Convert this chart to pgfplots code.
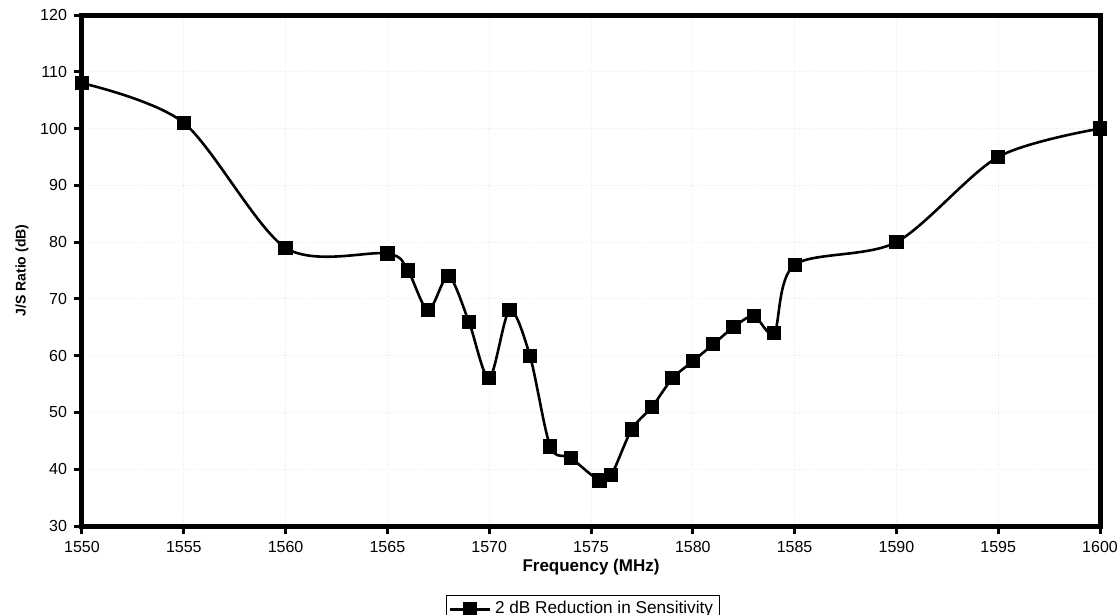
\documentclass[border=0pt]{standalone}
\usepackage{fontspec}
\setmainfont{Liberation Sans}
\usepackage{pgfplots}
\pgfplotsset{compat=1.18}
\begin{document}
\begin{tikzpicture}
\useasboundingbox (-41pt,-44.5pt) rectangle (518pt,263pt);
\begin{axis}[
  at={(0,0)}, anchor=south west,
  scale only axis, width=509pt, height=255.5pt,
  xmin=1550, xmax=1600, ymin=30, ymax=120,
  xtick distance=5, ytick distance=10,
  xtick pos=bottom, ytick pos=left,
  tick align=outside, major tick length=4pt,
  every tick/.style={black, line width=1.5pt},
  axis line style={line width=2.5pt},
  grid=major, major grid style={gray!18, line width=0.4pt, densely dotted},
  tick label style={font=\fontsize{8}{9}\selectfont},
  /pgf/number format/assume math mode=true,
  /pgf/number format/1000 sep={},
  clip=false,
  xlabel={Frequency (MHz)},
  ylabel={J/S Ratio (dB)},
  xlabel style={font=\fontsize{8.5}{10}\selectfont\bfseries, at={(axis description cs:0.5,0)}, anchor=center, yshift=-20.5pt},
  ylabel style={font=\fontsize{7}{8}\selectfont\bfseries, at={(axis description cs:-0.059,0.5)}, anchor=center},
  legend style={at={(0.492,0)}, anchor=north, yshift=-34.5pt, draw=black, line width=0.5pt,
    font=\fontsize{8.6}{10}\selectfont, inner sep=1pt},
  legend image code/.code={\draw[mark repeat=2,mark phase=2,#1] plot coordinates {(0cm,0cm)(0.35cm,0cm)(0.7cm,0cm)};},
]
\addplot[black, line width=1.3pt, smooth, mark=square*, mark size=2.9pt, mark options={solid}] coordinates {
(1550,108) (1555,101) (1560,79) (1565,78) (1566,75) (1567,68) (1568,74) (1569,66)
(1570,56) (1571,68) (1572,60) (1573,44) (1574,42) (1575.42,38) (1576,39) (1577,47)
(1578,51) (1579,56) (1580,59) (1581,62) (1582,65) (1583,67) (1584,64) (1585,76)
(1590,80) (1595,95) (1600,100)
};
\addlegendentry{2 dB Reduction in Sensitivity}
\end{axis}
\end{tikzpicture}
\end{document}
